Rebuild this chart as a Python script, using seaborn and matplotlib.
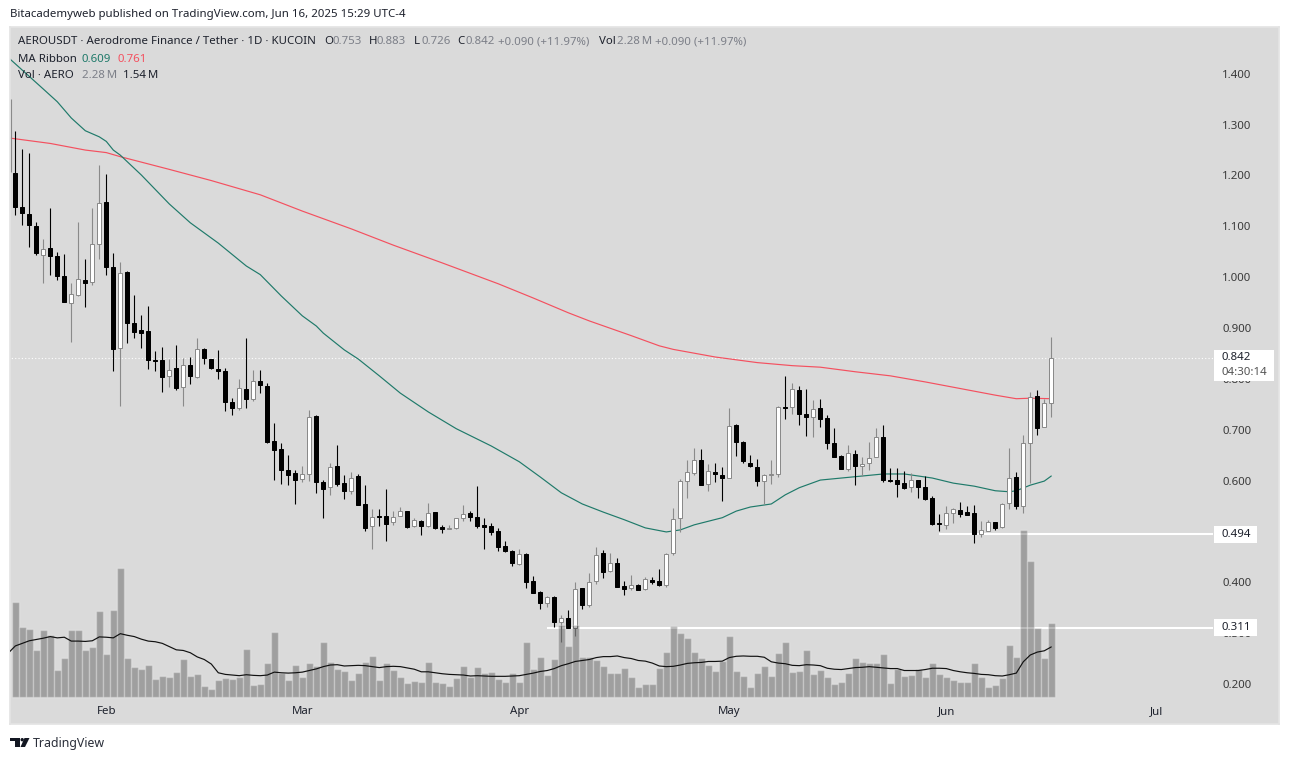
import matplotlib
matplotlib.use("Agg")
import matplotlib.pyplot as plt
import numpy as np
import seaborn as sns
from matplotlib.patches import Ellipse, Polygon, Rectangle

# daily candles, first one is 2025-01-19
opens = [1.205, 1.138, 1.124, 1.101, 1.044, 1.057, 1.042, 1.003, .949, .965,
         .994, .990, 1.065, 1.148, 1.021, .861, 1.011, .910, .897, .895,
         .838, .837, .805, .821, .784, .827, .804, .859, .839, .819,
         .815, .754, .743, .780, .760, .795, .786, .677, .662, .620,
         .614, .603, .612, .727, .597, .587, .628, .595, .580, .609,
         .553, .510, .531, .530, .518, .531, .540, .510, .520, .510,
         .538, .508, .505, .506, .526, .536, .528, .512, .510, .500,
         .471, .461, .435, .456, .402, .380, .360, .371, .321, .329,
         .311, .388, .356, .402, .457, .422, .437, .392, .388, .394,
         .386, .405, .402, .394, .457, .526, .599, .615, .640, .593,
         .616, .611, .606, .709, .676, .634, .626, .599, .611, .613,
         .744, .744, .778, .731, .725, .742, .724, .674, .648, .622,
         .652, .628, .634, .646, .686, .602, .602, .595, .588, .601,
         .587, .566, .516, .512, .537, .542, .539, .536, .495, .500,
         .518, .508, .556, .607, .550, .674, .766, .705, .753]
highs = [1.288, 1.252, 1.244, 1.109, 1.076, 1.137, 1.050, 1.046, .989, 1.109,
         1.036, 1.137, 1.221, 1.202, 1.048, 1.030, 1.012, .964, .926, .943,
         .855, .863, .840, .866, .841, .843, .881, .861, .840, .857,
         .821, .762, .800, .881, .818, .818, .791, .713, .673, .650,
         .620, .628, .738, .728, .601, .634, .669, .610, .617, .612,
         .591, .544, .545, .583, .540, .548, .541, .526, .522, .555,
         .539, .512, .512, .527, .552, .541, .589, .526, .516, .506,
         .481, .463, .465, .457, .412, .382, .373, .373, .335, .346,
         .400, .389, .418, .470, .463, .458, .447, .403, .415, .396,
         .410, .410, .426, .457, .546, .603, .640, .664, .662, .632,
         .635, .626, .743, .711, .677, .650, .642, .613, .640, .746,
         .806, .792, .786, .781, .759, .760, .729, .703, .651, .670,
         .660, .647, .676, .704, .709, .625, .625, .619, .615, .602,
         .609, .570, .535, .550, .547, .558, .550, .552, .521, .522,
         .519, .556, .664, .617, .689, .775, .779, .760, .883]
lows = [1.122, 1.102, 1.059, 1.043, .989, 1.004, .994, .951, .872, .963,
        .941, .984, 1.035, 1.004, .815, .746, .870, .881, .860, .819,
        .815, .775, .785, .779, .746, .789, .801, .829, .819, .800,
        .736, .728, .738, .742, .756, .773, .674, .602, .593, .592,
        .553, .598, .600, .576, .527, .572, .590, .564, .574, .551,
        .501, .466, .511, .482, .513, .530, .507, .509, .492, .509,
        .505, .497, .505, .505, .520, .520, .507, .465, .492, .462,
        .459, .433, .434, .389, .379, .348, .352, .313, .283, .311,
        .294, .348, .352, .397, .409, .421, .390, .375, .384, .384,
        .384, .396, .392, .391, .454, .498, .565, .610, .592, .579,
        .598, .560, .606, .649, .634, .626, .590, .554, .594, .608,
        .721, .731, .710, .687, .685, .706, .662, .647, .622, .618,
        .592, .609, .621, .646, .597, .598, .567, .584, .577, .565,
        .562, .513, .500, .504, .516, .529, .533, .477, .490, .500,
        .503, .506, .545, .545, .537, .596, .689, .705, .726]
closes = [1.139, 1.126, 1.102, 1.047, 1.055, 1.041, 1.002, .952, .967, .996,
          .988, 1.065, 1.146, 1.021, .858, 1.008, .909, .893, .891, .837,
          .836, .803, .817, .783, .827, .805, .859, .842, .821, .816,
          .754, .742, .782, .760, .796, .787, .675, .661, .620, .611,
          .602, .612, .725, .598, .584, .626, .594, .580, .606, .552,
          .507, .529, .529, .515, .529, .541, .509, .522, .511, .537,
          .507, .505, .507, .526, .535, .529, .511, .509, .499, .470,
          .462, .437, .455, .401, .379, .360, .372, .321, .329, .311,
          .386, .356, .400, .453, .421, .437, .391, .386, .394, .385,
          .406, .401, .395, .455, .525, .599, .616, .640, .592, .618,
          .612, .606, .707, .675, .638, .628, .600, .610, .613, .744,
          .742, .781, .730, .726, .741, .722, .673, .647, .622, .654,
          .628, .632, .644, .686, .602, .600, .594, .586, .601, .588,
          .564, .514, .514, .537, .544, .535, .533, .495, .502, .518,
          .507, .553, .606, .550, .674, .765, .704, .752, .842]
# millions of AERO
volumes = [2.93, 2.15, 2.09, 1.44, 2.06, 1.91, .82, 1.20, 2.06, 2.06,
           1.44, 1.54, 2.65, 1.32, 2.68, 3.98, 1.20, .92, .86, .98,
           .55, .64, .61, .76, 1.17, .64, .70, .33, .24, .52,
           .58, .55, .61, 1.47, .36, .39, 1.04, 2.00, .73, .52,
           .98, .61, 1.04, .95, 1.69, 1.07, .86, .79, .52, .73,
           1.07, 1.26, .52, 1.04, .82, .61, .42, .48, .45, 1.07,
           .45, .42, .33, .58, .95, .61, .92, .73, .76, .55,
           .45, .73, .45, 1.69, .86, 1.23, .67, 1.17, 2.22, 1.57,
           2.22, 1.23, 1.23, 1.13, .95, .73, .73, .89, .61, .30,
           .39, .39, .89, 1.38, 2.19, 1.97, 1.81, 1.38, 1.20, .98,
           .79, 1.10, 1.88, .79, .64, .30, .73, .95, .64, 1.35,
           1.69, .76, .79, 1.44, .70, .82, .61, .39, .45, .73,
           1.20, 1.07, 1.04, 1.04, 1.32, .42, .86, .64, .67, .86,
           .61, 1.04, .70, .61, .52, .45, .45, 1.04, .61, .30,
           .36, .58, 1.60, 1.23, 5.16, 4.20, 2.12, 1.20, 2.28]
# volume MA, first value belongs to the day before the first candle
volume_ma = [1.35, 1.57, 1.65, 1.73, 1.77, 1.81, 1.86, 1.82, 1.84, 1.72, 1.72,
             1.71, 1.73, 1.85, 1.84, 1.82, 1.95, 1.90, 1.86, 1.78, 1.72,
             1.70, 1.65, 1.55, 1.45, 1.43, 1.36, 1.23, 1.15, 1.01, .74,
             .69, .67, .65, .68, .66, .65, .67, .76, .74, .73,
             .74, .76, .81, .86, .93, .98, .99, .95, .96, .97,
             .96, .93, .90, .93, .94, .93, .89, .85, .77, .77,
             .74, .71, .69, .68, .67, .64, .65, .64, .63, .63,
             .63, .64, .65, .69, .73, .78, .81, .87, .96, 1.02,
             1.09, 1.12, 1.15, 1.21, 1.24, 1.24, 1.26, 1.21, 1.18, 1.12,
             1.10, 1.04, .95, .93, .94, .98, 1.03, 1.05, 1.06, 1.09,
             1.09, 1.10, 1.21, 1.25, 1.26, 1.25, 1.25, 1.22, 1.08, 1.04,
             1.02, .97, .96, .99, .98, .96, .88, .85, .84, .87,
             .90, .91, .93, .91, .89, .87, .87, .81, .81, .81,
             .84, .88, .88, .87, .81, .77, .74, .72, .69, .68,
             .65, .64, .68, .73, 1.08, 1.29, 1.38, 1.42, 1.54]

# MA ribbon, read at these candle numbers
ma_fast_days = [-1, 4, 6, 8, 10, 12, 13, 14, 15, 18, 22, 25, 29, 33, 35, 38, 41, 43, 44, 47,
                49, 52, 55, 59, 63, 68, 72, 75, 78, 81, 84, 87, 90, 93, 95, 97, 101, 103, 105,
                108, 110, 112, 115, 118, 121, 124, 127, 131, 134, 137, 140, 142, 143, 145, 147, 148]
ma_fast = [1.432, 1.370, 1.345, 1.313, 1.288, 1.276, 1.267, 1.250, 1.240, 1.201, 1.144, 1.107,
           1.067, 1.022, 1.005, .963, .924, .904, .890, .857,
           .839, .806, .772, .735, .702, .668, .637, .607, .576, .554, .538, .523, .507, .499,
           .503, .513, .527, .540, .548,
           .554, .572, .586, .601, .605, .609, .613, .613, .605, .595, .589, .580, .578, .580,
           .591, .599, .609]
ma_slow_days = [-1, 5, 10, 13, 15, 22, 28, 33, 35, 41, 48, 54, 61, 69, 74, 79, 82, 88, 92, 94,
                100, 106, 111, 115, 120, 125, 130, 135, 140, 143, 145, 148]
ma_slow = [1.274, 1.263, 1.250, 1.245, 1.237, 1.212, 1.190, 1.170, 1.162, 1.130, 1.095, 1.063,
           1.028, .987, .959, .930, .914, .885, .865, .858,
           .843, .832, .826, .823, .814, .806, .794, .781, .768, .761, .762, .761]

price_ticks = [1.4, 1.3, 1.2, 1.1, 1.0, 0.9, 0.8, 0.7, 0.6, 0.5, 0.4, 0.3, 0.2]
month_days = [13, 41, 72, 102, 133, 163]
month_labels = ["Feb", "Mar", "Apr", "May", "Jun", "Jul"]

# the clipped wick of the candle at the very left edge
edge_wick_x, edge_wick_low, edge_wick_high = -0.66, 1.207, 1.351

last_close = 0.842
level_high, level_high_from = 0.494, 132
level_low, level_low_from = 0.311, 76

W, H = 1289, 760
BG = "#DADADA"
GREY = "#8A8A8A"
DARK = "#1E222D"
SOFT = "#7C7F88"
GREEN = "#1F7A6A"
RED = "#F4505F"
FONT = 8.25

sns.set_theme(style="white")
plt.rcParams["font.family"] = ["Noto Sans", "DejaVu Sans"]

fig = plt.figure(figsize=(W / 100, H / 100), dpi=100, facecolor="white")
ax = fig.add_axes([10 / W, 1 - 724 / H, 1269 / W, 697 / H], facecolor=BG)
ax_vol = ax.twinx()
ax_vol.patch.set_visible(False)


def px_text(x, y, s, color=DARK, size=FONT, **kw):
    fig.text(x / W, 1 - y / H, s, color=color, fontsize=size, va="center", **kw)


days = np.arange(len(closes))
opens_a, closes_a = np.array(opens), np.array(closes)
up = closes_a >= opens_a
top = np.maximum(opens_a, closes_a)
bot = np.minimum(opens_a, closes_a)

# levels and last price line
line_end = 171.1
ax.hlines(level_high, level_high_from, line_end, color="white", lw=1.5, zorder=1)
ax.hlines(level_low, level_low_from, line_end, color="white", lw=1.5, zorder=1)
ax.hlines(last_close, -1, line_end, color="white", lw=0.8, linestyles=(0, (1, 2)), zorder=1)

# moving averages
sns.lineplot(x=ma_slow_days, y=ma_slow, color=RED, lw=0.85, errorbar=None, ax=ax, zorder=2)
sns.lineplot(x=ma_fast_days, y=ma_fast, color=GREEN, lw=0.85, errorbar=None, ax=ax, zorder=2)

# candles
ax.vlines(edge_wick_x, edge_wick_low, edge_wick_high, color=GREY, lw=0.8, zorder=3)
ax.vlines(days[~up], np.array(lows)[~up], np.array(highs)[~up], color="black", lw=0.8, zorder=3)
ax.vlines(days[up], np.array(lows)[up], np.array(highs)[up], color=GREY, lw=0.8, zorder=3)
ax.bar(days[~up], (top - bot)[~up], bottom=bot[~up], width=0.6, color="black",
       edgecolor="black", lw=0.72, zorder=4)
ax.bar(days[up], (top - bot)[up], bottom=bot[up], width=0.6, color="white",
       edgecolor=GREY, lw=0.72, zorder=4)

# volume pane on its own scale
sns.barplot(x=days, y=volumes, native_scale=True, color="black", alpha=0.27, saturation=1,
            width=0.95, ax=ax_vol, zorder=1)
sns.lineplot(x=np.arange(-1, len(closes)), y=volume_ma, color="#111111", lw=0.85,
             errorbar=None, ax=ax_vol, zorder=2)
ax_vol.set_ylim(-0.845, 20.72)
ax_vol.yaxis.set_visible(False)
ax_vol.set_ylabel("")
ax_vol.set_xlabel("")

ax.set_xlim(-0.757, 180.53)
ax.set_ylim(0.1213, 1.492)
ax.set_xticks(month_days, month_labels)
ax.set_yticks(price_ticks, [f"{p:.3f}" for p in price_ticks])
ax.yaxis.tick_right()
ax.tick_params(axis="y", length=0, pad=-41, labelsize=FONT, labelcolor="#3A3A3A")
ax.tick_params(axis="x", length=0, pad=-12.8, labelsize=FONT, labelcolor=DARK)
for s in ax.spines.values():
    s.set_color("#E4E4E4")
for s in ax_vol.spines.values():
    s.set_visible(False)

# price tags on the right
y_tf = ax.get_yaxis_transform()
tag_h = 16.5 * 0.001967
for price, label in [(level_high, "0.494"), (level_low, "0.311")]:
    ax.add_patch(Rectangle((1204 / 1269, price - tag_h / 2), 43 / 1269, tag_h,
                           transform=y_tf, fc="white", ec="none", zorder=6))
    ax.text(1212 / 1269, price, label, transform=y_tf, color=DARK, fontsize=FONT,
            va="center", zorder=7)
ax.add_patch(Rectangle((1204 / 1269, last_close - 23 * 0.001967), 60 / 1269, 31 * 0.001967,
                       transform=y_tf, fc="white", ec="none", zorder=6))
ax.text(1212 / 1269, last_close, "0.842", transform=y_tf, color=DARK, fontsize=FONT,
        va="center", zorder=7)
ax.text(1212 / 1269, last_close - 15 * 0.001967, "04:30:14", transform=y_tf,
        color="#555555", fontsize=FONT, va="center", zorder=7)

# header and legend rows
px_text(10, 14, "Bitacademyweb published on TradingView.com, Jun 16, 2025 15:29 UTC-4")
px_text(18, 42, "AEROUSDT · Aerodrome Finance / Tether · 1D · KUCOIN")
for x, letter, value in [(324, "O", "0.753"), (369, "H", "0.883"), (414, "L", "0.726"), (457, "C", "0.842")]:
    px_text(x, 42, letter)
    px_text(x + 8, 42, value, color=SOFT)
px_text(498, 42, "+0.090 (+11.97%)", color=SOFT)
px_text(599, 42, "Vol")
px_text(617, 42, "2.28\u2009M", color=SOFT)
px_text(655, 42, "+0.090 (+11.97%)", color=SOFT)
px_text(18, 59, "MA Ribbon")
px_text(82, 59, "0.609", color=GREEN)
px_text(118, 59, "0.761", color=RED)
px_text(18, 76, "Vol · AERO")
px_text(82, 76, "2.28\u2009M", color=SOFT)
px_text(123, 76, "1.54\u2009M")
px_text(33, 743, "TradingView", color="#2A2E39", size=8.9)

# logo
to_fig = lambda pts: [(x / W, 1 - y / H) for x, y in pts]
logo_kw = dict(transform=fig.transFigure, fc="#131722", ec="none")
fig.add_artist(Polygon(to_fig([(10, 738), (19.5, 738), (19.5, 747), (15, 747), (15, 741), (10, 741)]), **logo_kw))
fig.add_artist(Polygon(to_fig([(24.5, 738), (29.5, 738), (25, 747), (20.5, 747)]), **logo_kw))
fig.add_artist(Ellipse((22.2 / W, 1 - 739.7 / H), 3.4 / W, 3.4 / H, **logo_kw))

fig.savefig("out.png", dpi=100, facecolor="white")
